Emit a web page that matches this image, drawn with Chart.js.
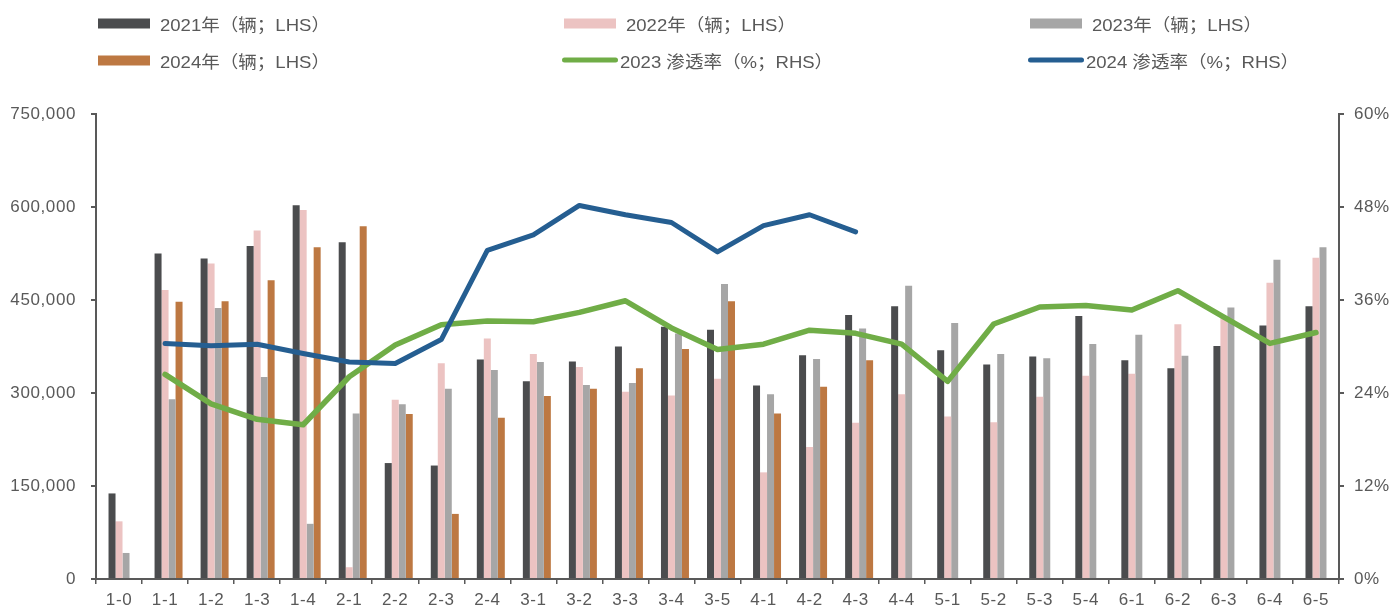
<!DOCTYPE html>
<html lang="zh-CN">
<head>
<meta charset="utf-8">
<title>销量与渗透率</title>
<script src="https://cdn.jsdelivr.net/npm/chart.js@4/dist/chart.umd.min.js"></script>
<style>
  html, body { margin: 0; padding: 0; background: #ffffff; }
  #wrap { position: relative; width: 1394px; height: 610px; overflow: hidden; }
  #chart { position: absolute; left: 0; top: 0; }
  .lg-item {
    position: absolute; display: flex; align-items: center; white-space: nowrap;
    font-family: "Liberation Sans", Arial, "Noto Sans CJK SC", sans-serif;
    font-size: 17px; color: #595959; transform: translateY(-50%);
  }
  .lg-box { width: 52px; height: 10px; margin-right: 10px; flex: none; }
  .lg-line { width: 56px; height: 5px; border-radius: 3px; margin-right: 2px; flex: none; }
  .lg-text { display: inline-block; transform: scaleX(1.09); transform-origin: left center; }
</style>
</head>
<body>
<div id="wrap">
  <canvas id="chart" width="1394" height="610"></canvas>
  <div id="legend"></div>
</div>
<script>
// Week labels (month-week)
const categories = ['1-0','1-1','1-2','1-3','1-4','2-1','2-2','2-3','2-4','3-1','3-2','3-3','3-4','3-5',
  '4-1','4-2','4-3','4-4','5-1','5-2','5-3','5-4','6-1','6-2','6-3','6-4','6-5'];

// Weekly volumes (vehicles, left axis)
const sales2021 = [138000, 525000, 517000, 537000, 603000, 543000, 187000, 183000, 354000, 319000, 351000, 375000, 407000, 402000,
  312000, 361000, 426000, 440000, 369000, 346000, 359000, 424000, 353000, 340000, 376000, 409000, 440000];
const sales2022 = [93000, 466000, 509000, 562000, 595000, 19000, 289000, 348000, 388000, 363000, 342000, 302000, 296000, 323000,
  172000, 213000, 252000, 298000, 262000, 253000, 294000, 328000, 331000, 411000, 423000, 478000, 518000];
const sales2023 = [42000, 290000, 437000, 326000, 89000, 267000, 282000, 307000, 337000, 350000, 313000, 316000, 396000, 476000,
  298000, 355000, 404000, 473000, 413000, 363000, 356000, 379000, 394000, 360000, 438000, 515000, 535000];
const sales2024 = [null, 447000, 448000, 482000, 535000, 569000, 266000, 105000, 260000, 295000, 307000, 340000, 371000, 448000,
  267000, 310000, 353000, null, null, null, null, null, null, null, null, null, null];

// Penetration rate (%, right axis)
const pen2023 = [null, 26.4, 22.6, 20.6, 19.9, 26.1, 30.2, 32.8, 33.3, 33.2, 34.4, 35.9, 32.4, 29.6,
  30.3, 32.1, 31.7, 30.3, 25.5, 32.9, 35.1, 35.3, 34.7, 37.2, 33.8, 30.4, 31.8];
const pen2024 = [null, 30.4, 30.1, 30.3, 29.1, 28.0, 27.8, 30.9, 42.4, 44.4, 48.2, 47.0, 46.0, 42.2,
  45.6, 47.0, 44.8, null, null, null, null, null, null, null, null, null, null];

// Axis ticks
const leftTicks = [0, 150000, 300000, 450000, 600000, 750000];
const rightTicks = [0, 12, 24, 36, 48, 60];

const TEXT = '#595959';
const FONT = { family: '"Liberation Sans", Arial, "Noto Sans CJK SC", sans-serif', size: 17 };

const barDs = (label, data, color) => ({
  type: 'bar', label, data, backgroundColor: color, borderWidth: 0,
  yAxisID: 'y', order: 2, barPercentage: 1.0, categoryPercentage: 0.76
});
const lineDs = (label, data, color, order, width) => ({
  type: 'line', label, data, borderColor: color, backgroundColor: color, borderWidth: width,
  pointRadius: 0, tension: 0, borderCapStyle: 'round', borderJoinStyle: 'round',
  yAxisID: 'y2', order, spanGaps: false
});

const datasets = [
  // empty leading slot in each bar group
  Object.assign(barDs('', categories.map(() => null), 'rgba(0,0,0,0)'), { legendHidden: true }),
  barDs('2021年（辆；LHS）', sales2021, '#4b4c4e'),
  barDs('2022年（辆；LHS）', sales2022, '#ecc3c2'),
  barDs('2023年（辆；LHS）', sales2023, '#a6a6a6'),
  barDs('2024年（辆；LHS）', sales2024, '#bd7842'),
  lineDs('2023 渗透率（%；RHS）', pen2023, '#70ad47', 1, 5.5),
  lineDs('2024 渗透率（%；RHS）', pen2024, '#255e91', 0, 5)
];

const axisGrid = { drawOnChartArea: false, drawTicks: true, tickLength: 5, color: TEXT, lineWidth: 2 };
const axisBorder = { display: true, color: TEXT, width: 2 };

// Slightly wider tick lettering
const spacing = {
  id: 'tickSpacing',
  beforeDraw(c) { c.ctx.letterSpacing = '0.6px'; }
};

const chart = new Chart(document.getElementById('chart'), {
  type: 'bar',
  data: { labels: categories, datasets },
  plugins: [spacing],
  options: {
    responsive: false,
    animation: false,
    devicePixelRatio: 1,
    layout: { padding: { top: 114, left: 0, right: 0, bottom: 0 } },
    plugins: { legend: { display: false }, tooltip: { enabled: false } },
    scales: {
      x: {
        offset: true,
        grid: { drawOnChartArea: false, drawTicks: true, tickLength: 5, color: TEXT, lineWidth: 1.5, offset: true },
        border: axisBorder,
        ticks: { color: TEXT, font: FONT, padding: 6, maxRotation: 0, autoSkip: false },
        afterFit: s => { s.height = 31; }
      },
      y: {
        position: 'left', min: 0, max: 750000,
        afterBuildTicks: s => { s.ticks = leftTicks.map(v => ({ value: v })); },
        grid: axisGrid, border: axisBorder,
        ticks: { color: TEXT, font: FONT, padding: 15, callback: v => v.toLocaleString('en-US') },
        afterFit: s => { s.width = 96; }
      },
      y2: {
        position: 'right', min: 0, max: 60,
        afterBuildTicks: s => { s.ticks = rightTicks.map(v => ({ value: v })); },
        grid: axisGrid, border: axisBorder,
        ticks: { color: TEXT, font: FONT, padding: 10, callback: v => v + '%' },
        afterFit: s => { s.width = 55; }
      }
    }
  }
});

// Two-row, three-column legend built from the datasets
const legend = document.getElementById('legend');
const colX = [98, 564, 1030];
const rowY = [23, 60];
datasets.filter(d => !d.legendHidden).forEach((d, i) => {
  const item = document.createElement('div');
  item.className = 'lg-item';
  const col = i % 3, row = Math.floor(i / 3);
  const isLine = d.type === 'line';
  item.style.left = (colX[col] - (isLine ? 2 : 0)) + 'px';
  item.style.top = rowY[row] + 'px';
  const sw = document.createElement('span');
  sw.className = isLine ? 'lg-line' : 'lg-box';
  sw.style.background = isLine ? d.borderColor : d.backgroundColor;
  const tx = document.createElement('span');
  tx.className = 'lg-text';
  tx.textContent = d.label;
  item.appendChild(sw);
  item.appendChild(tx);
  legend.appendChild(item);
});
</script>
</body>
</html>
